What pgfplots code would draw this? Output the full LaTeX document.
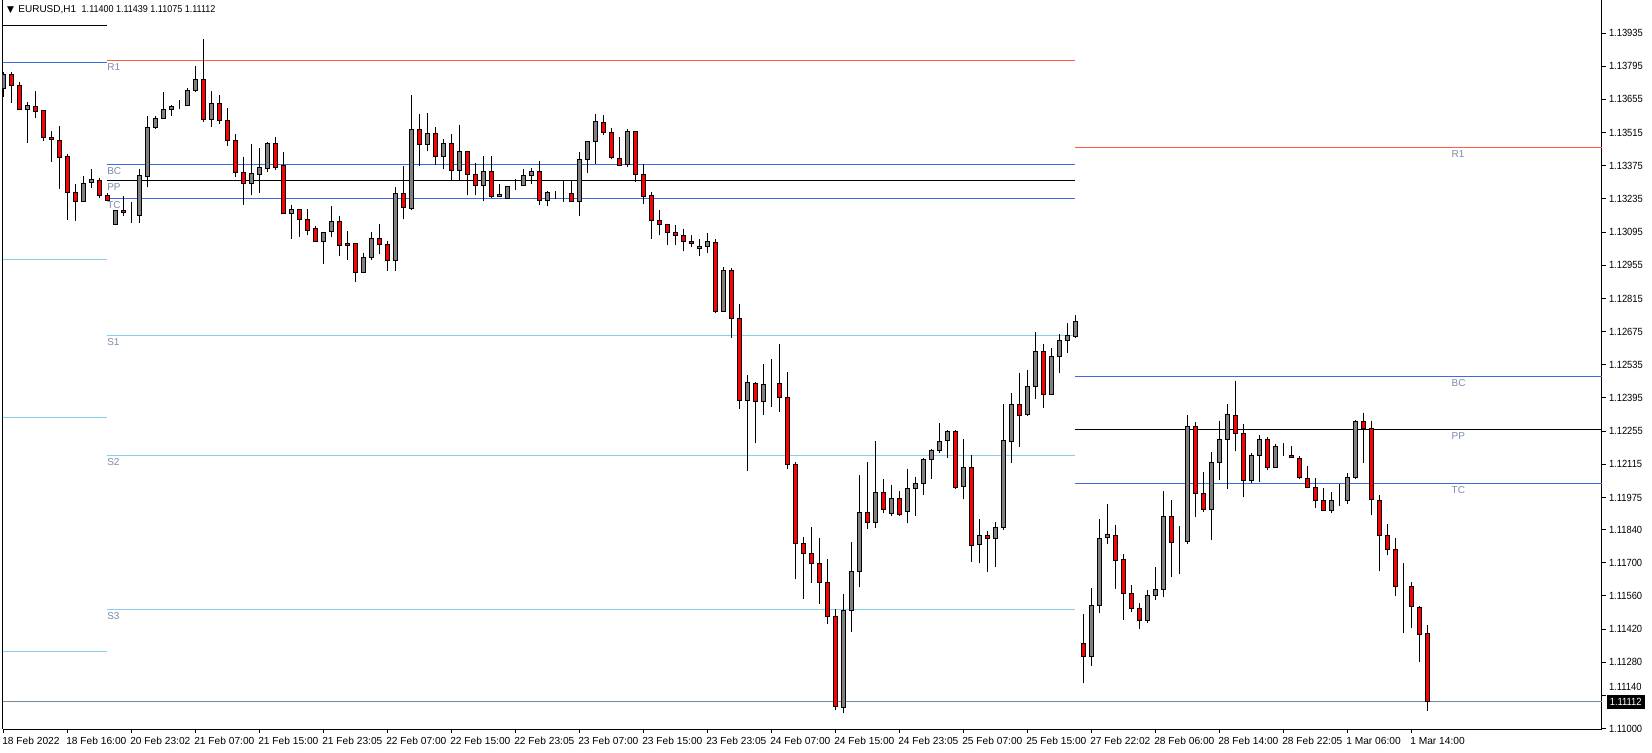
\documentclass[border=0pt]{standalone}
\usepackage{pgfplots}
\pgfplotsset{compat=1.18}
\usepackage{pgfplotstable}
\usepackage{fontspec}
\setmainfont{Liberation Sans}
\newfontfamily\narrowfont[FakeStretch=0.9]{Liberation Sans}
\newfontfamily\symfont{DejaVu Sans}
\definecolor{lineblue}{HTML}{3A6BE0}
\definecolor{linecyan}{HTML}{87CEEB}
\definecolor{linered}{HTML}{FF5A3C}
\definecolor{lblcol}{HTML}{7A8BAA}
\definecolor{pricegray}{HTML}{778899}
\definecolor{bullgray}{HTML}{808080}

\pgfplotstableread{
i O H L C
0 1.13702 1.13772 1.13666 1.13762
1 1.13761 1.13772 1.13641 1.13713
2 1.13714 1.13727 1.13609 1.13612
3 1.13612 1.13645 1.13472 1.13630
4 1.13626 1.13690 1.13578 1.13605
5 1.13606 1.13606 1.13481 1.13493
6 1.13496 1.13522 1.13392 1.13487
7 1.13482 1.13542 1.13278 1.13411
8 1.13412 1.13423 1.13147 1.13263
9 1.13263 1.13298 1.13143 1.13225
10 1.13225 1.13333 1.13221 1.13301
11 1.13305 1.13360 1.13280 1.13318
12 1.13314 1.13323 1.13240 1.13250
13 1.13250 1.13259 1.13228 1.13230
14 1.13128 1.13187 1.13128 1.13187
15 1.13188 1.13249 1.13164 1.13179
16 1.13173 1.13221 1.13132 1.13173
17 1.13166 1.13361 1.13135 1.13332
18 1.13331 1.13585 1.13284 1.13537
19 1.13536 1.13585 1.13531 1.13575
20 1.13575 1.13686 1.13575 1.13613
21 1.13613 1.13631 1.13586 1.13626
22 1.13627 1.13652 1.13613 1.13627
23 1.13630 1.13702 1.13630 1.13693
24 1.13693 1.13796 1.13685 1.13740
25 1.13740 1.13910 1.13561 1.13571
26 1.13571 1.13690 1.13540 1.13639
27 1.13639 1.13672 1.13552 1.13567
28 1.13567 1.13617 1.13460 1.13482
29 1.13482 1.13508 1.13329 1.13347
30 1.13347 1.13412 1.13211 1.13301
31 1.13301 1.13466 1.13253 1.13343
32 1.13339 1.13450 1.13261 1.13368
33 1.13364 1.13474 1.13350 1.13470
34 1.13470 1.13496 1.13358 1.13368
35 1.13377 1.13433 1.13174 1.13174
36 1.13174 1.13208 1.13067 1.13191
37 1.13191 1.13191 1.13076 1.13149
38 1.13149 1.13191 1.13084 1.13103
39 1.13109 1.13120 1.13056 1.13056
40 1.13056 1.13094 1.12962 1.13094
41 1.13098 1.13205 1.13073 1.13141
42 1.13141 1.13163 1.12995 1.13039
43 1.13048 1.13100 1.12979 1.13039
44 1.13048 1.13048 1.12883 1.12925
45 1.12925 1.13006 1.12925 1.12989
46 1.12989 1.13094 1.12979 1.13069
47 1.13069 1.13129 1.13001 1.13044
48 1.13044 1.13056 1.12930 1.12976
49 1.12976 1.13284 1.12932 1.13259
50 1.13259 1.13373 1.13149 1.13197
51 1.13195 1.13674 1.13187 1.13529
52 1.13529 1.13593 1.13372 1.13466
53 1.13466 1.13598 1.13436 1.13512
54 1.13512 1.13539 1.13377 1.13415
55 1.13415 1.13487 1.13360 1.13470
56 1.13470 1.13509 1.13309 1.13356
57 1.13356 1.13547 1.13309 1.13436
58 1.13436 1.13436 1.13250 1.13339
59 1.13339 1.13385 1.13253 1.13293
60 1.13293 1.13415 1.13225 1.13352
61 1.13352 1.13415 1.13238 1.13246
62 1.13246 1.13297 1.13246 1.13255
63 1.13238 1.13288 1.13238 1.13288
64 1.13291 1.13318 1.13271 1.13291
65 1.13293 1.13360 1.13293 1.13335
66 1.13335 1.13364 1.13297 1.13352
67 1.13352 1.13394 1.13208 1.13229
68 1.13229 1.13267 1.13204 1.13263
69 1.13261 1.13267 1.13233 1.13261
70 1.13259 1.13309 1.13221 1.13259
71 1.13259 1.13309 1.13225 1.13225
72 1.13225 1.13433 1.13162 1.13402
73 1.13402 1.13478 1.13343 1.13478
74 1.13478 1.13592 1.13381 1.13563
75 1.13558 1.13588 1.13503 1.13516
76 1.13516 1.13533 1.13402 1.13411
77 1.13406 1.13495 1.13373 1.13377
78 1.13381 1.13529 1.13368 1.13520
79 1.13520 1.13520 1.13305 1.13339
80 1.13339 1.13381 1.13212 1.13246
81 1.13250 1.13263 1.13065 1.13145
82 1.13145 1.13187 1.13081 1.13128
83 1.13128 1.13128 1.13039 1.13094
84 1.13094 1.13124 1.13039 1.13081
85 1.13081 1.13107 1.13014 1.13056
86 1.13056 1.13081 1.13031 1.13048
87 1.13027 1.13065 1.12993 1.13035
88 1.13035 1.13090 1.13006 1.13056
89 1.13052 1.13065 1.12752 1.12761
90 1.12761 1.12946 1.12761 1.12934
91 1.12934 1.12942 1.12649 1.12731
92 1.12731 1.12792 1.12350 1.12385
93 1.12385 1.12491 1.12085 1.12461
94 1.12457 1.12461 1.12206 1.12381
95 1.12381 1.12537 1.12322 1.12453
96 1.12453 1.12558 1.12356 1.12453
97 1.12457 1.12622 1.12335 1.12398
98 1.12398 1.12503 1.12094 1.12115
99 1.12115 1.12124 1.11632 1.11782
100 1.11782 1.11807 1.11548 1.11740
101 1.11740 1.11849 1.11615 1.11697
102 1.11697 1.11803 1.11527 1.11617
103 1.11617 1.11714 1.11440 1.11474
104 1.11474 1.11503 1.11077 1.11095
105 1.11090 1.11566 1.11064 1.11499
106 1.11499 1.11786 1.11406 1.11664
107 1.11664 1.12069 1.11596 1.11913
108 1.11913 1.12124 1.11841 1.11870
109 1.11870 1.12212 1.11845 1.11997
110 1.11997 1.12052 1.11908 1.11925
111 1.11908 1.12026 1.11896 1.11972
112 1.11972 1.12001 1.11896 1.11904
113 1.11917 1.12094 1.11866 1.12014
114 1.12014 1.12060 1.11896 1.12035
115 1.12035 1.12140 1.11984 1.12136
116 1.12136 1.12178 1.12052 1.12174
117 1.12174 1.12288 1.12162 1.12212
118 1.12216 1.12259 1.12140 1.12254
119 1.12254 1.12259 1.12010 1.12018
120 1.12022 1.12221 1.11967 1.12102
121 1.12102 1.12153 1.11702 1.11773
122 1.11778 1.11883 1.11697 1.11816
123 1.11816 1.11832 1.11659 1.11803
124 1.11803 1.11870 1.11680 1.11849
125 1.11849 1.12368 1.11837 1.12216
126 1.12212 1.12415 1.12119 1.12368
127 1.12368 1.12499 1.12187 1.12322
128 1.12326 1.12512 1.12318 1.12444
129 1.12444 1.12672 1.12389 1.12592
130 1.12592 1.12622 1.12351 1.12411
131 1.12411 1.12605 1.12411 1.12571
132 1.12571 1.12664 1.12499 1.12638
133 1.12638 1.12710 1.12584 1.12660
134 1.12655 1.12744 1.12647 1.12719
135 1.11360 1.11483 1.11192 1.11303
136 1.11306 1.11592 1.11264 1.11520
137 1.11520 1.11883 1.11486 1.11803
138 1.11807 1.11946 1.11778 1.11820
139 1.11816 1.11858 1.11590 1.11710
140 1.11714 1.11735 1.11457 1.11571
141 1.11571 1.11605 1.11491 1.11507
142 1.11507 1.11529 1.11419 1.11457
143 1.11457 1.11583 1.11444 1.11562
144 1.11562 1.11680 1.11541 1.11588
145 1.11588 1.12001 1.11554 1.11896
146 1.11896 1.11963 1.11638 1.11786
147 1.11789 1.11854 1.11651 1.11789
148 1.11790 1.12322 1.11778 1.12276
149 1.12276 1.12292 1.11891 1.11993
150 1.11993 1.12081 1.11913 1.11925
151 1.11925 1.12166 1.11794 1.12124
152 1.12124 1.12297 1.12048 1.12221
153 1.12221 1.12368 1.12010 1.12326
154 1.12322 1.12465 1.12170 1.12246
155 1.12246 1.12284 1.11976 1.12048
156 1.12048 1.12162 1.12035 1.12153
157 1.12153 1.12237 1.12039 1.12221
158 1.12221 1.12229 1.12090 1.12102
159 1.12102 1.12200 1.12102 1.12191
160 1.12156 1.12204 1.12149 1.12156
161 1.12153 1.12191 1.12145 1.12145
162 1.12140 1.12149 1.12052 1.12060
163 1.12056 1.12107 1.12018 1.12018
164 1.12018 1.12056 1.11929 1.11963
165 1.11963 1.12014 1.11921 1.11921
166 1.11921 1.11997 1.11908 1.11963
167 1.11961 1.12031 1.11938 1.11961
168 1.11963 1.12077 1.11946 1.12060
169 1.12060 1.12301 1.12052 1.12297
170 1.12297 1.12330 1.12119 1.12267
171 1.12267 1.12297 1.11900 1.11967
172 1.11963 1.11984 1.11664 1.11816
173 1.11816 1.11862 1.11731 1.11756
174 1.11756 1.11803 1.11558 1.11600
175 1.11603 1.11697 1.11402 1.11603
176 1.11600 1.11617 1.11423 1.11516
177 1.11512 1.11516 1.11280 1.11398
178 1.11400 1.11439 1.11075 1.11112
}\candles

\begin{document}
\begin{tikzpicture}[x=1pt,y=1pt]
\useasboundingbox (0,0) rectangle (826,376);
\pgfplotsset{
  chartbase/.style={
    scale only axis, width=799.45pt, height=364.5pt,
    at={(1.35pt,11.5pt)}, anchor=south west,
    xmin=-0.075, xmax=199.79, ymin=1.10998, ymax=1.140744,
  }
}
\begin{axis}[chartbase,
  axis x line*=bottom, axis y line*=right,
  axis line style={black, line width=0.5pt},
  tick align=outside, major tick length=2pt,
  every tick/.style={black, line width=0.5pt},
  xtick={0,8,...,176},
  xticklabels={18 Feb 2022,18 Feb 16:00,20 Feb 23:02,21 Feb 07:00,21 Feb 15:00,21 Feb 23:05,22 Feb 07:00,22 Feb 15:00,22 Feb 23:05,23 Feb 07:00,23 Feb 15:00,23 Feb 23:05,24 Feb 07:00,24 Feb 15:00,24 Feb 23:05,25 Feb 07:00,25 Feb 15:00,27 Feb 22:02,28 Feb 06:00,28 Feb 14:00,28 Feb 22:05,1 Mar 06:00,1 Mar 14:00},
  xticklabel style={anchor=north west, inner sep=0pt, font=\fontsize{5.1}{5.6}\selectfont, xshift=-0.7pt, yshift=-1.9pt},
  ytick={1.11000,1.11280,1.11420,1.11560,1.11700,1.11840,1.11975,1.12115,1.12255,1.12395,1.12535,1.12675,1.12815,1.12955,1.13095,1.13235,1.13375,1.13515,1.13655,1.13795,1.13935},
  yticklabels={1.11000,1.11280,1.11420,1.11560,1.11700,1.11840,1.11975,1.12115,1.12255,1.12395,1.12535,1.12675,1.12815,1.12955,1.13095,1.13235,1.13375,1.13515,1.13655,1.13795,1.13935},
  extra y ticks={1.11140},
  extra y tick labels={1.11140},
  extra y tick style={yticklabel style={yshift=4pt}},
  yticklabel style={anchor=west, inner sep=0pt, font=\narrowfont\fontsize{5.2}{5.6}\selectfont, xshift=1.5pt},
  clip=false,
]
% left border
\draw[black, line width=0.5pt] (rel axis cs:0,0) -- (rel axis cs:0,1);
% previous-day levels (left segment)
\addplot[black, line width=0.5pt] coordinates {(-0.075,1.13968) (12.925,1.13968)};
\addplot[lineblue, line width=0.5pt] coordinates {(-0.075,1.13809) (12.925,1.13809)};
\addplot[linecyan, line width=0.5pt] coordinates {(-0.075,1.12981) (12.925,1.12981)};
\addplot[linecyan, line width=0.5pt] coordinates {(-0.075,1.12313) (12.925,1.12313)};
\addplot[linecyan, line width=0.5pt] coordinates {(-0.075,1.11326) (12.925,1.11326)};
% middle segment
\addplot[linered, line width=0.5pt] coordinates {(12.925,1.13820) (133.96,1.13820)};
\addplot[lineblue, line width=0.5pt] coordinates {(12.925,1.13381) (133.96,1.13381)};
\addplot[black, line width=0.5pt] coordinates {(12.925,1.13311) (133.96,1.13311)};
\addplot[lineblue, line width=0.5pt] coordinates {(12.925,1.13238) (133.96,1.13238)};
\addplot[linecyan, line width=0.5pt] coordinates {(12.925,1.12660) (133.96,1.12660)};
\addplot[linecyan, line width=0.5pt] coordinates {(12.925,1.12153) (133.96,1.12153)};
\addplot[linecyan, line width=0.5pt] coordinates {(12.925,1.11503) (133.96,1.11503)};
% right segment
\addplot[linered, line width=0.5pt] coordinates {(133.96,1.13452) (199.79,1.13452)};
\addplot[lineblue, line width=0.5pt] coordinates {(133.96,1.12486) (199.79,1.12486)};
\addplot[black, line width=0.5pt] coordinates {(133.96,1.12260) (199.79,1.12260)};
\addplot[lineblue, line width=0.5pt] coordinates {(133.96,1.12032) (199.79,1.12032)};
% last price line
\addplot[pricegray, line width=0.5pt] coordinates {(-0.075,1.11112) (199.79,1.11112)};
% wicks
\addplot[draw=none, mark=none, error bars/.cd, y dir=plus, y explicit,
  error mark=none, error bar style={draw=black, line width=0.5pt}]
  table[x=i, y=L, y error expr=\thisrow{H}-\thisrow{L}] {\candles};
% level labels
\tikzset{lvl/.style={anchor=north west, inner sep=0pt, text=lblcol, font=\fontsize{5}{5.5}\selectfont, yshift=-1.3pt}}
\node[lvl] at (axis cs:12.95,1.13820) {R1};
\node[lvl] at (axis cs:12.95,1.13381) {BC};
\node[lvl] at (axis cs:12.95,1.13311) {PP};
\node[lvl] at (axis cs:12.95,1.13238) {TC};
\node[lvl] at (axis cs:12.95,1.12660) {S1};
\node[lvl] at (axis cs:12.95,1.12153) {S2};
\node[lvl] at (axis cs:12.95,1.11503) {S3};
\node[lvl] at (axis cs:181,1.13452) {R1};
\node[lvl] at (axis cs:181,1.12486) {BC};
\node[lvl] at (axis cs:181,1.12260) {PP};
\node[lvl] at (axis cs:181,1.12032) {TC};
% current price box
\node[anchor=west, fill=black, text=white, inner xsep=1.6pt, inner ysep=0pt, minimum height=6.6pt, font=\narrowfont\fontsize{5.2}{5.6}\selectfont, xshift=2.3pt] at (axis cs:199.79,1.11112) {1.11112};
\end{axis}
\begin{axis}[chartbase, hide axis, ybar stacked, bar width=2pt]
\addplot[draw=none, fill=none] table[x=i, y expr={min(\thisrow{O},\thisrow{C})}] {\candles};
\addplot[draw=black, line width=0.5pt, fill=bullgray] table[x=i, y expr={max(\thisrow{C}-\thisrow{O},0)}] {\candles};
\addplot[draw=black, line width=0.5pt, fill=red] table[x=i, y expr={max(\thisrow{O}-\thisrow{C},0)}] {\candles};
\end{axis}
% header
\node[anchor=west, inner sep=0pt, font=\symfont\fontsize{4.5}{5}\selectfont] at (3.3pt,371pt) {▼};
\node[anchor=west, inner sep=0pt, font=\fontsize{5}{5.5}\selectfont] at (9pt,371pt) {EURUSD,H1\ \ {\narrowfont 1.11400 1.11439 1.11075 1.11112}};
\end{tikzpicture}
\end{document}
